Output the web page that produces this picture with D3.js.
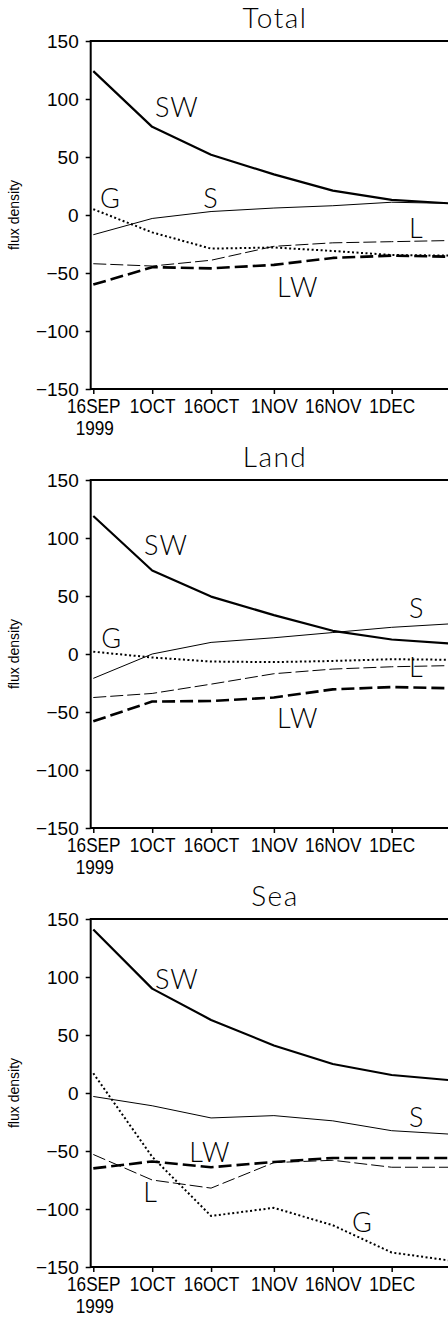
<!DOCTYPE html>
<html><head><meta charset="utf-8">
<script src="https://cdn.jsdelivr.net/npm/d3@7"></script>
<style>
html,body{margin:0;padding:0;background:#fff;}
svg{display:block;}
</style></head>
<body>
<script>
// ---- data ----
const dates = ["1999-09-16","1999-10-01","1999-10-16","1999-11-01","1999-11-16","1999-12-01","1999-12-16"];
const tickDates = ["1999-09-16","1999-10-01","1999-10-16","1999-11-01","1999-11-16","1999-12-01"];
const tickLabels = ["16SEP","1OCT","16OCT","1NOV","16NOV","1DEC"];
const yTicks = [-150,-100,-50,0,50,100,150];
const panelTitles = ["Total","Land","Sea"];

const totalSW = [124, 76, 52, 35, 21, 13, 10];
const totalS  = [-17, -3, 3, 6, 8, 11, 10];
const totalG  = [5, -15, -29, -28, -31, -34.5, -35];
const totalL  = [-42, -44, -39, -27, -24, -23, -22];
const totalLW = [-60, -45, -46, -43, -37, -35, -36];

const landSW = [119, 72, 49.5, 33.5, 20, 12.5, 9];
const landS  = [-21, 0, 10, 14, 18.5, 23, 26];
const landG  = [2, -3, -6.5, -7, -6, -4.5, -5];
const landL  = [-37.5, -34, -26, -17, -13, -11, -10];
const landLW = [-58, -41, -40.5, -37.5, -30.5, -28.5, -29.5];

const seaSW = [141, 90, 63, 41, 25, 15.5, 11];
const seaS  = [-3, -11, -21.5, -19.5, -24, -32.5, -35.5];
const seaG  = [17, -55, -106, -99, -114, -137.5, -144.5];
const seaL  = [-53, -75, -82, -60, -58, -64, -64];
const seaLW = [-65, -59, -64, -59.5, -56, -56, -56];

// curve labels per panel: [text, date anchor, value at baseline]
const totalLabels = [["SW","1999-10-01T17",84.5],["S","1999-10-14T00",6],["G","1999-09-17T17",6],["L","1999-12-05T10",-19.8],["LW","1999-11-01T19",-70.7]];
const landLabels  = [["SW","1999-09-28T22",85.3],["S","1999-12-05T10",31],["G","1999-09-18T00",5.2],["L","1999-12-05T10",-19.8],["LW","1999-11-01T19",-63.8]];
const seaLabels   = [["SW","1999-10-01T17",89.7],["S","1999-12-05T10",-29.3],["LW","1999-10-10T10",-59.5],["L","1999-09-28T17",-94],["G","1999-11-20T22",-119.8]];

// ---- layout ----
const W = 448, H = 1317;
const panelTop = [41, 480, 919];
const plotH = 348;
const left = 90.7, right = 454;
const parse = d3.utcParse("%Y-%m-%d");
const parseH = d3.utcParse("%Y-%m-%dT%H");

const svg = d3.select("body").append("svg").attr("width", W).attr("height", H);

const x = d3.scaleUtc()
  .domain([new Date(Date.UTC(1999,8,15,8,10)), new Date(Date.UTC(1999,11,16,21,0))])
  .range([left, right]);

const styles = {
  SW: {w:2.2, dash:null},
  S:  {w:1, dash:null},
  G:  {w:2, dash:"2,2.5"},
  L:  {w:1, dash:"13,4"},
  LW: {w:2.6, dash:"13,5"}
};

const panels = [
  {title:"Total", series:{SW:totalSW,S:totalS,G:totalG,L:totalL,LW:totalLW}, labels:totalLabels},
  {title:"Land",  series:{SW:landSW,S:landS,G:landG,L:landL,LW:landLW}, labels:landLabels},
  {title:"Sea",   series:{SW:seaSW,S:seaS,G:seaG,L:seaL,LW:seaLW}, labels:seaLabels}
];

const lightFont = "Lato, 'Open Sans', sans-serif";
const axisFont = "'Liberation Sans', Arial, sans-serif";

panels.forEach((p, i) => {
  const top = panelTop[i];
  const g = svg.append("g").attr("transform", `translate(0,${top})`);
  const y = d3.scaleLinear().domain([-150,150]).range([plotH, 0]);

  const cid = "clip"+i;
  svg.append("clipPath").attr("id", cid).append("rect")
    .attr("x", left).attr("y", top).attr("width", right-left).attr("height", plotH);

  const lg = svg.append("g").attr("clip-path", `url(#${cid})`).append("g").attr("transform", `translate(0,${top})`);
  ["L","S","G","LW","SW"].forEach(k => {
    const vals = p.series[k];
    const line = d3.line().x((d,j)=>x(parse(dates[j]))).y(d=>y(d));
    lg.append("path").datum(vals)
      .attr("d", line)
      .attr("fill","none")
      .attr("stroke","#000")
      .attr("stroke-width", styles[k].w)
      .attr("stroke-dasharray", styles[k].dash)
      .attr("stroke-linejoin","round");
  });

  // y axis
  const ya = g.append("g").attr("transform", `translate(${left},0)`)
    .call(d3.axisLeft(y).tickValues(yTicks).tickSize(5).tickPadding(7)
      .tickFormat(d => d < 0 ? "\u2212" + Math.abs(d) : String(d)));
  ya.select(".domain").remove();
  ya.selectAll("line").attr("stroke","#000").attr("stroke-width",1.5);
  ya.selectAll("text").attr("font-family",axisFont).attr("font-size",19).attr("fill","#000");

  // x axis
  const xa = g.append("g").attr("transform", `translate(0,${plotH})`)
    .call(d3.axisBottom(x).tickValues(tickDates.map(parse)).tickSize(5).tickPadding(5)
      .tickFormat((d,j) => tickLabels[j]));
  xa.select(".domain").remove();
  xa.selectAll("line").attr("stroke","#000").attr("stroke-width",1.5);
  xa.selectAll("text").attr("font-family",axisFont).attr("font-size",20).attr("fill","#000")
    .attr("transform","scale(0.86,1)");
  xa.append("g").attr("transform", `translate(${x(parse(tickDates[0]))+1.5},0) scale(0.86,1)`)
    .append("text").attr("y", 46).attr("text-anchor","middle")
    .attr("font-family",axisFont).attr("font-size",20).attr("fill","#000").text("1999");

  // frame
  g.append("rect").attr("x", left).attr("y", 0).attr("width", right-left).attr("height", plotH)
    .attr("fill","none").attr("stroke","#000").attr("stroke-width",2);

  // y label
  g.append("text").attr("transform", `translate(19,${plotH/2}) rotate(-90)`)
    .attr("text-anchor","middle").attr("font-family",axisFont)
    .attr("font-size",14).attr("fill","#000").text("flux density");

  // title
  g.append("text").attr("x", 275).attr("y", -13)
    .attr("text-anchor","middle").attr("font-family", lightFont).attr("font-weight",300)
    .attr("font-size",28).attr("letter-spacing",1.5).attr("fill","#000").text(p.title);

  // curve labels
  p.labels.forEach(([t, d, v]) => {
    g.append("text").attr("x", x(parseH(d))).attr("y", y(v))
      .attr("font-family", lightFont).attr("font-weight",300)
      .attr("font-size",27).attr("letter-spacing",1).attr("fill","#000").text(t);
  });
});
</script>
</body></html>
